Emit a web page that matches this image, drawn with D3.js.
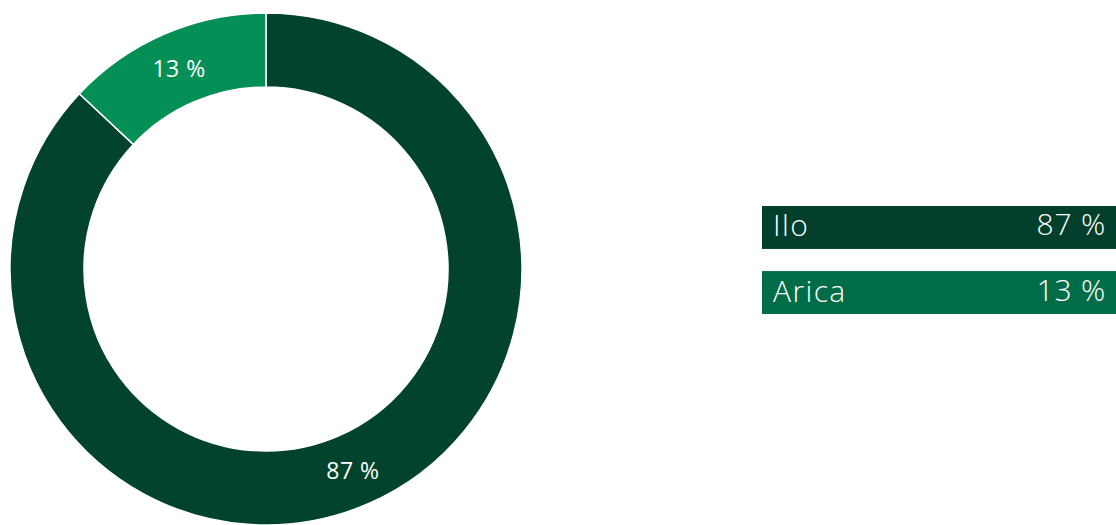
<!DOCTYPE html>
<html><head><meta charset="utf-8">
<script src="https://cdn.jsdelivr.net/npm/d3@7"></script>
<style>html,body{margin:0;padding:0;background:#fff;}svg{display:block;}</style>
</head><body>
<svg id="chart" width="1116" height="525"></svg>
<script>
const categories = ["Ilo", "Arica"];
const values = [87, 13];
const valueLabels = ["87 %", "13 %"];
const donutColors = ["#01432c", "#038f55"];
const legendColors = ["#003f2b", "#006c48"];

const svg = d3.select("#chart");
const cx = 266, cy = 269, rOuter = 256, rInner = 182;

const pie = d3.pie().sort(null).value(d => d.v);
const data = categories.map((c, i) => ({c, v: values[i], label: valueLabels[i], i}));
const arcs = pie(data);
const arc = d3.arc().innerRadius(rInner).outerRadius(rOuter);

const g = svg.append("g").attr("transform", `translate(${cx},${cy})`);
g.selectAll("path").data(arcs).join("path")
  .attr("d", arc)
  .attr("fill", d => donutColors[d.data.i])
  .attr("stroke", "#ffffff")
  .attr("stroke-width", 1.5);

g.selectAll("text").data(arcs).join("text")
  .attr("transform", d => `translate(${arc.centroid(d)})`)
  .attr("text-anchor", "middle")
  .attr("dominant-baseline", "central")
  .attr("fill", "#fff")
  .attr("font-family", "'Open Sans', Lato, sans-serif")
  .attr("font-size", 23)
  .attr("letter-spacing", 0.5)
  .text(d => d.data.label);

// legend
const y = d3.scaleBand().domain(categories).range([206, 314]).paddingInner(0.34).paddingOuter(0);
const lx0 = 762, lx1 = 1116;
const lg = svg.append("g");
const rows = lg.selectAll("g").data(data).join("g")
  .attr("transform", d => `translate(0,${y(d.c)})`);
rows.append("rect")
  .attr("x", lx0).attr("width", lx1 - lx0)
  .attr("height", y.bandwidth())
  .attr("fill", d => legendColors[d.i]);
rows.append("text")
  .attr("x", lx0 + 11).attr("y", y.bandwidth() / 2 + 9)
  .attr("fill", "#fff")
  .attr("font-family", "'Open Sans', Lato, sans-serif")
  .attr("font-weight", 300)
  .attr("font-size", 30)
  .attr("letter-spacing", 1.4)
  .text(d => d.c);
rows.append("text")
  .attr("x", lx1 - 10).attr("y", y.bandwidth() / 2 + 8)
  .attr("text-anchor", "end")
  .attr("fill", "#fff")
  .attr("font-family", "'Open Sans', Lato, sans-serif")
  .attr("font-weight", 300)
  .attr("font-size", 30)
  .attr("letter-spacing", 0.8)
  .text(d => d.label);
</script>
</body></html>
